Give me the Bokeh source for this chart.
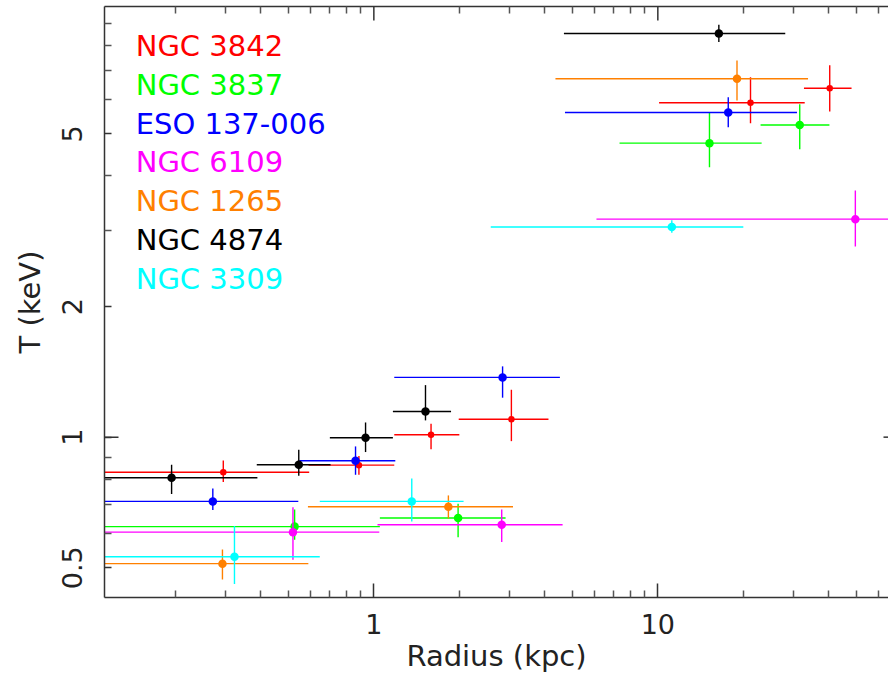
import math
from bokeh.plotting import figure
from bokeh.models import Range1d, FixedTicker, LogAxis, Label, CustomJSTickFormatter
from bokeh.embed import file_html
from bokeh.resources import INLINE

# ---------------- data ----------------
names = ["NGC 3842", "NGC 3837", "ESO 137-006", "NGC 6109", "NGC 1265", "NGC 4874", "NGC 3309"]
colors = ["#ff0000", "#00ff00", "#0000ff", "#ff00ff", "#ff8000", "#000000", "#00ffff"]

# NGC 3842
r_3842 = [0.295, 0.886, 1.59, 3.05, 21.2, 40.3]
rlo_3842 = [0.05, 0.589, 1.18, 1.99, 10.1, 32.7]
rhi_3842 = [0.592, 1.18, 2.00, 4.12, 32.9, 48.1]
t_3842 = [0.830, 0.862, 1.013, 1.100, 5.90, 6.37]
tlo_3842 = [0.788, 0.819, 0.938, 0.979, 5.29, 5.63]
thi_3842 = [0.884, 0.905, 1.074, 1.286, 6.75, 7.20]

# NGC 3837
r_3837 = [0.526, 1.98, 15.2, 31.6]
rlo_3837 = [0.05, 1.05, 7.33, 23.0]
rhi_3837 = [1.05, 2.91, 23.2, 40.2]
t_3837 = [0.622, 0.651, 4.76, 5.24]
tlo_3837 = [0.580, 0.588, 4.19, 4.61]
thi_3837 = [0.681, 0.702, 5.59, 5.85]

# ESO 137-006
r_eso = [0.271, 0.862, 2.84, 17.7]
rlo_eso = [0.05, 0.546, 1.18, 4.71]
rhi_eso = [0.542, 1.19, 4.52, 30.9]
t_eso = [0.711, 0.882, 1.373, 5.60]
tlo_eso = [0.679, 0.819, 1.233, 5.18]
thi_eso = [0.761, 0.952, 1.456, 6.07]

# NGC 6109
r_6109 = [0.519, 2.82, 49.6]
rlo_6109 = [0.05, 1.03, 6.08]
rhi_6109 = [1.045, 4.62, 80.0]
t_6109 = [0.604, 0.628, 3.18]
tlo_6109 = [0.522, 0.573, 2.75]
thi_6109 = [0.689, 0.681, 3.70]

# NGC 1265
r_1265 = [0.293, 1.83, 19.0]
rlo_1265 = [0.05, 0.586, 4.36]
rhi_1265 = [0.588, 3.09, 33.8]
t_1265 = [0.511, 0.691, 6.70]
tlo_1265 = [0.470, 0.649, 5.97]
thi_1265 = [0.551, 0.734, 7.38]

# NGC 4874
r_4874 = [0.194, 0.544, 0.935, 1.52, 16.4]
rlo_4874 = [0.05, 0.387, 0.700, 1.167, 4.67]
rhi_4874 = [0.389, 0.704, 1.167, 1.87, 28.1]
t_4874 = [0.806, 0.864, 0.997, 1.146, 8.52]
tlo_4874 = [0.740, 0.815, 0.924, 1.093, 8.14]
thi_4874 = [0.864, 0.935, 1.081, 1.318, 8.92]

# NGC 3309
r_3309 = [0.323, 1.36, 11.2]
rlo_3309 = [0.05, 0.645, 2.58]
rhi_3309 = [0.645, 2.07, 20.0]
t_3309 = [0.530, 0.711, 3.05]
tlo_3309 = [0.459, 0.639, 2.96]
thi_3309 = [0.624, 0.803, 3.16]

series = [
    (r_3842, rlo_3842, rhi_3842, t_3842, tlo_3842, thi_3842),
    (r_3837, rlo_3837, rhi_3837, t_3837, tlo_3837, thi_3837),
    (r_eso, rlo_eso, rhi_eso, t_eso, tlo_eso, thi_eso),
    (r_6109, rlo_6109, rhi_6109, t_6109, tlo_6109, thi_6109),
    (r_1265, rlo_1265, rhi_1265, t_1265, tlo_1265, thi_1265),
    (r_4874, rlo_4874, rhi_4874, t_4874, tlo_4874, thi_4874),
    (r_3309, rlo_3309, rhi_3309, t_3309, tlo_3309, thi_3309),
]

x_major = [1, 10]
x_minor = [0.2, 0.3, 0.4, 0.5, 0.6, 0.7, 0.8, 0.9, 2, 3, 4, 5, 6, 7, 8, 9, 20, 30, 40, 50, 60]
y_major = [0.5, 1, 2, 5]
y_minor = [0.6, 0.7, 0.8, 0.9, 3, 4, 6, 7, 8, 9]

X_START, X_END = 0.1126, 64.9
Y_START, Y_END = 0.427, 9.83

FONT = "DejaVu Sans"
TEXT_COLOR = "#222222"
AXIS_COLOR = "#333333"
MINOR_COLOR = "#555555"

p = figure(width=888, height=675, x_axis_type="log", y_axis_type="log",
           x_range=Range1d(X_START, X_END), y_range=Range1d(Y_START, Y_END),
           output_backend="svg", toolbar_location=None,
           min_border_left=104, min_border_right=0, min_border_top=6, min_border_bottom=78)
p.outline_line_color = None
p.grid.visible = False
p.background_fill_color = "white"
p.border_fill_color = "white"

fmt = CustomJSTickFormatter(code="return tick.toString();")

xa = p.xaxis[0]
xa.ticker = FixedTicker(ticks=x_major, minor_ticks=x_minor)
xa.formatter = fmt
xa.major_tick_in = 14
xa.major_tick_out = 0
xa.minor_tick_in = 7
xa.minor_tick_out = 0
xa.axis_label = "Radius (kpc)"
xa.axis_label_text_font = FONT
xa.axis_label_text_font_size = "29px"
xa.axis_label_text_font_style = "normal"
xa.axis_label_text_color = TEXT_COLOR
xa.axis_label_standoff = 2
xa.major_label_text_font = FONT
xa.major_label_text_font_size = "27px"
xa.major_label_text_color = TEXT_COLOR
xa.major_label_standoff = 16

ya = p.yaxis[0]
ya.ticker = FixedTicker(ticks=y_major, minor_ticks=y_minor)
ya.formatter = fmt
ya.major_tick_in = 7
ya.major_tick_out = 0
ya.minor_tick_in = 7
ya.minor_tick_out = 0
ya.major_label_orientation = "parallel"
ya.axis_label = "T (keV)"
ya.axis_label_text_font = FONT
ya.axis_label_text_font_size = "29px"
ya.axis_label_text_font_style = "normal"
ya.axis_label_text_color = TEXT_COLOR
ya.axis_label_standoff = 13
ya.major_label_text_font = FONT
ya.major_label_text_font_size = "27px"
ya.major_label_text_color = TEXT_COLOR
ya.major_label_standoff = 22

for ax in (xa, ya):
    ax.axis_line_color = AXIS_COLOR
    ax.axis_line_width = 1.5
    ax.major_tick_line_color = AXIS_COLOR
    ax.major_tick_line_width = 1.5
    ax.minor_tick_line_color = MINOR_COLOR
    ax.minor_tick_line_width = 1.5

# top frame: short ticks only (the long decade ticks are added below)
top = LogAxis(ticker=FixedTicker(ticks=[], minor_ticks=x_minor),
              major_tick_in=0, major_tick_out=0, minor_tick_in=7, minor_tick_out=0,
              major_label_standoff=0,
              axis_line_color=AXIS_COLOR, axis_line_width=1.5,
              minor_tick_line_color=MINOR_COLOR, minor_tick_line_width=1.5)
p.add_layout(top, "above")

# long tick at T = 1 on the left frame edge, the stub visible on the right edge,
# and the long decade ticks on the top frame
p.segment(x0=[X_START, X_END / 10 ** (5 / 284)], y0=[1, 1],
          x1=[X_START * 10 ** (14 / 284), X_END], y1=[1, 1],
          line_color=AXIS_COLOR, line_width=1.5)
p.segment(x0=x_major, y0=[Y_END / 10 ** (14 / 433.9)] * len(x_major),
          x1=x_major, y1=[Y_END] * len(x_major),
          line_color=AXIS_COLOR, line_width=1.5)

# data
for (r, rlo, rhi, t, tlo, thi), c in zip(series, colors):
    p.segment(x0=rlo, y0=t, x1=rhi, y1=t, line_color=c, line_width=1.4)
    p.segment(x0=r, y0=tlo, x1=r, y1=thi, line_color=c, line_width=1.4)
    p.scatter(x=r, y=t, marker="circle", size=6.5 if c == "#ff0000" else 8.5,
              fill_color=c, line_color=c, line_width=0)

# coloured name list (top left)
leg_x = 0.145
leg_y0 = 7.99
leg_step = 1.2298
for i, (n, c) in enumerate(zip(names, colors)):
    p.add_layout(Label(x=leg_x, y=leg_y0 / leg_step ** i, text=n, text_color=c,
                       text_font=FONT, text_font_size="29px", text_baseline="alphabetic"))

open("out.html", "w").write(file_html(p, INLINE))
